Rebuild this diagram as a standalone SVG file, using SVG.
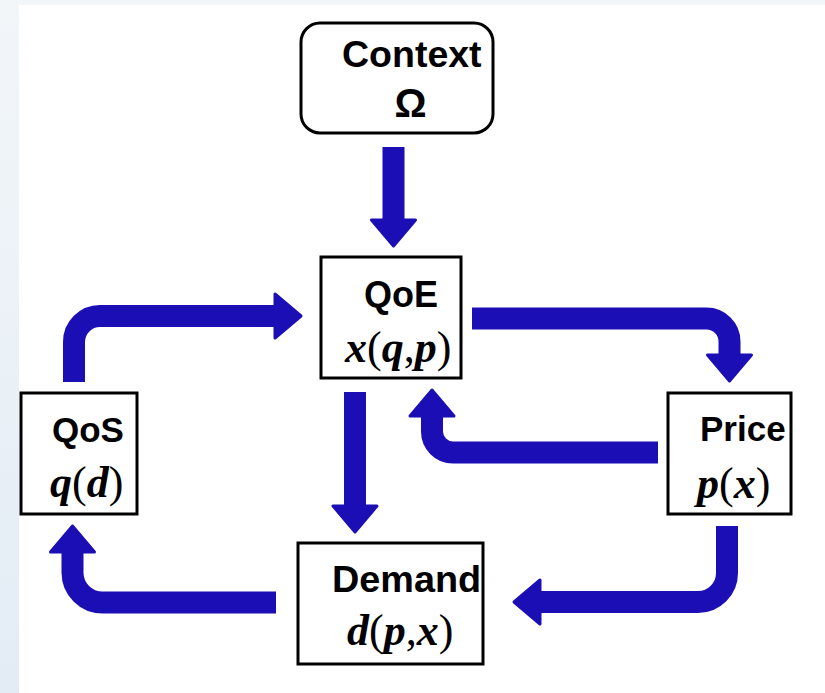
<svg xmlns="http://www.w3.org/2000/svg" width="825" height="693" viewBox="0 0 825 693">
  <defs>
    <linearGradient id="edge" x1="0" y1="0" x2="0" y2="1">
      <stop offset="0" stop-color="#f2f6f9"/>
      <stop offset="1" stop-color="#e3ecf5"/>
    </linearGradient>
    <marker id="head" markerUnits="userSpaceOnUse" viewBox="-3 -25 33 50" markerWidth="33" markerHeight="50" refX="0" refY="0" orient="auto">
      <path d="M0,-22 L26,0 L0,22 Z" fill="#1b0eb5" stroke="#1b0eb5" stroke-width="3" stroke-linejoin="round"/>
    </marker>
    <style>
      .box { fill: #ffffff; stroke: #000000; stroke-width: 3; }
      .label { font-family: "Liberation Sans", Arial, sans-serif; font-weight: bold; font-size: 35px; fill: #000000; }
      .math { font-family: "Liberation Serif", "Times New Roman", serif; font-size: 44px; fill: #000000; }
      .var { font-style: italic; font-weight: bold; }
      .flow { fill: none; stroke: #1b0eb5; stroke-width: 22; stroke-linecap: butt; marker-end: url(#head); }
    </style>
  </defs>

  <!-- page background -->
  <rect x="0" y="0" width="825" height="693" fill="url(#edge)"/>
  <rect x="19" y="5" width="806" height="688" fill="#ffffff"/>

  <!-- connectors -->
  <g id="connectors">
    <path class="flow" d="M393.5,147 V220"/>
    <path class="flow" d="M74,382 V342 A26,26 0 0 1 100,316 H275"/>
    <path class="flow" d="M472,318.5 H706.5 A23,23 0 0 1 729.5,341.5 V355"/>
    <path class="flow" d="M658,452.5 H453 A21,21 0 0 1 432,431.5 V416"/>
    <path class="flow" d="M355,392 V506"/>
    <path class="flow" d="M727,526 V573 A29,29 0 0 1 698,602 H540"/>
    <path class="flow" d="M276,602.5 H102.5 A30,30 0 0 1 72.5,572.5 V552"/>
  </g>

  <g id="context">
    <rect class="box" x="301" y="23" width="192" height="110" rx="19"/>
    <text class="label" x="342" y="67" style="font-size:37.5px">Context</text>
    <text class="label" x="410.5" y="117" text-anchor="middle" style="font-size:40px">Ω</text>
  </g>

  <g id="qoe">
    <rect class="box" x="321" y="257" width="140" height="121"/>
    <text class="label" x="364" y="307" style="font-size:36px">QoE</text>
    <text class="math" x="345" y="362"><tspan class="var">x</tspan>(<tspan class="var">q</tspan>,<tspan class="var">p</tspan>)</text>
  </g>

  <g id="qos">
    <rect class="box" x="21" y="393" width="116" height="121"/>
    <text class="label" x="52" y="442">QoS</text>
    <text class="math" x="50" y="497"><tspan class="var">q</tspan>(<tspan class="var">d</tspan>)</text>
  </g>

  <g id="price">
    <rect class="box" x="668" y="393" width="123" height="121"/>
    <text class="label" x="700" y="441">Price</text>
    <text class="math" x="697" y="498"><tspan class="var">p</tspan>(<tspan class="var">x</tspan>)</text>
  </g>

  <g id="demand">
    <rect class="box" x="298" y="543" width="185" height="121"/>
    <text class="label" x="332" y="592" style="font-size:37.8px">Demand</text>
    <text class="math" x="347" y="645"><tspan class="var">d</tspan>(<tspan class="var">p</tspan>,<tspan class="var">x</tspan>)</text>
  </g>
</svg>
